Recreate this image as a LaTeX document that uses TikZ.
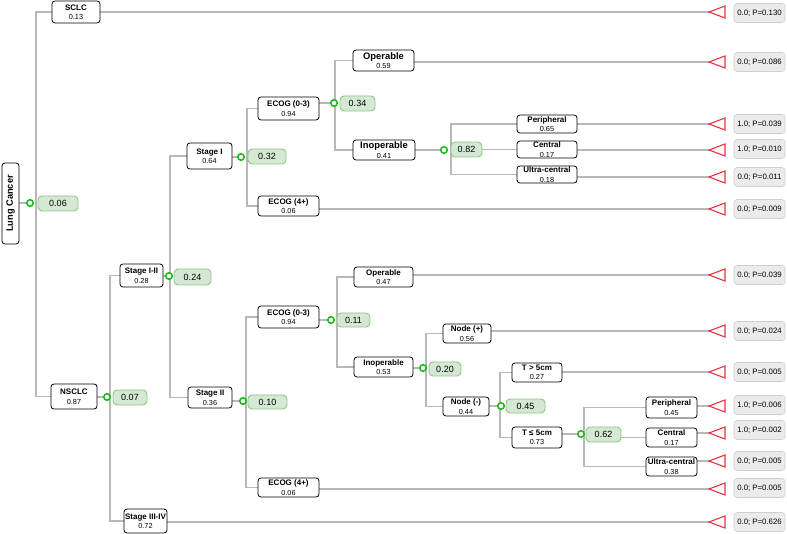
\documentclass[tikz,border=0pt]{standalone}
\usepackage{fontspec}
\usepackage{graphicx}
\setmainfont{Liberation Sans}
\definecolor{conncol}{HTML}{B8B8B8}
\definecolor{dotgreen}{HTML}{1DB81D}
\definecolor{pillfill}{HTML}{D5E8D4}
\definecolor{pillline}{HTML}{8FC585}
\definecolor{termfill}{HTML}{EBEBEB}
\definecolor{termline}{HTML}{CFCFCF}
\definecolor{trired}{HTML}{E8323F}
\newcommand\nlab[2]{\textbf{#1}\\{\fontsize{7.3}{9.5}\selectfont #2}}
\newcommand\nlabL[2]{{\fontsize{9.4}{9.5}\selectfont\bfseries #1}\\{\fontsize{7.3}{9.5}\selectfont #2}}
\pgfdeclarelayer{bg}
\pgfsetlayers{bg,main}
\tikzset{
  box/.style={draw=black, line width=0.8pt, rounded corners=3pt, fill=white, inner sep=0pt, align=center, font=\fontsize{8}{9.5}\selectfont},
  pill/.style={draw=pillline, fill=pillfill, line width=0.9pt, rounded corners=4pt, inner sep=0pt, font=\fontsize{9}{10}\selectfont},
  dot/.style={circle, draw=dotgreen, line width=1.6pt, fill=white, minimum size=6.5pt, inner sep=0pt},
  conn/.style={draw=conncol, line width=1.1pt},
  tri/.style={draw=trired, line width=1.1pt, fill=white, line join=miter},
  term/.style={draw=termline, fill=termfill, line width=0.6pt, rounded corners=3pt, inner sep=0pt, minimum width=51pt, minimum height=19pt, font=\fontsize{7.8}{9}\selectfont},
}
\begin{document}
\begin{tikzpicture}[x=1pt,y=-1pt]
\useasboundingbox (0,0) rectangle (787,534);
% boxes
\node[box, minimum width=17pt, minimum height=81pt] (lung) at (10.5,203.5) {\rotatebox{90}{\fontsize{9.3}{10}\selectfont\bfseries Lung Cancer}};
\node[box, minimum width=48pt, minimum height=22pt] (sclc) at (76,12) {\nlab{SCLC}{0.13}};
\node[box, minimum width=46pt, minimum height=25pt] (nsclc) at (74,396.5) {\nlab{NSCLC}{0.87}};
\node[box, minimum width=43pt, minimum height=23pt] (s12) at (141.5,275.5) {\nlab{Stage I-II}{0.28}};
\node[box, minimum width=43pt, minimum height=24pt] (s34) at (145.5,521) {\nlab{Stage III-IV}{0.72}};
\node[box, minimum width=45pt, minimum height=26pt] (st1) at (209.5,156) {\nlab{Stage I}{0.64}};
\node[box, minimum width=44pt, minimum height=21pt] (st2) at (210,397.5) {\nlab{Stage II}{0.36}};
\node[box, minimum width=61pt, minimum height=23pt] (ecA) at (288.5,108.5) {\nlab{ECOG (0-3)}{0.94}};
\node[box, minimum width=61pt, minimum height=20pt] (ec4A) at (288.5,206) {\nlab{ECOG (4+)}{0.06}};
\node[box, minimum width=61pt, minimum height=21pt] (opA) at (383.5,60.5) {\nlabL{Operable}{0.59}};
\node[box, minimum width=62pt, minimum height=20pt] (inA) at (384,150) {\nlabL{Inoperable}{0.41}};
\node[box, minimum width=60pt, minimum height=18pt] (peA) at (547,124) {\nlab{Peripheral}{0.65}};
\node[box, minimum width=60pt, minimum height=17pt] (ceA) at (547,149.5) {\nlab{Central}{0.17}};
\node[box, minimum width=60pt, minimum height=17pt] (ucA) at (547,174.5) {\nlab{Ultra-central}{0.18}};
\node[box, minimum width=61pt, minimum height=22pt] (ecB) at (288.5,317) {\nlab{ECOG (0-3)}{0.94}};
\node[box, minimum width=61pt, minimum height=19pt] (ec4B) at (288.5,487.5) {\nlab{ECOG (4+)}{0.06}};
\node[box, minimum width=59pt, minimum height=20pt] (opB) at (383.5,277) {\nlab{Operable}{0.47}};
\node[box, minimum width=59pt, minimum height=20pt] (inB) at (383.5,367) {\nlab{Inoperable}{0.53}};
\node[box, minimum width=48pt, minimum height=19pt] (ndP) at (467,333.5) {\nlab{Node (+)}{0.56}};
\node[box, minimum width=46pt, minimum height=19pt] (ndM) at (466,406.5) {\nlab{Node (-)}{0.44}};
\node[box, minimum width=50pt, minimum height=19pt] (tgt) at (537,372.5) {\nlab{T > 5cm}{0.27}};
\node[box, minimum width=50pt, minimum height=21pt] (tle) at (537,437.5) {\nlab{T ≤ 5cm}{0.73}};
\node[box, minimum width=51pt, minimum height=21pt] (peB) at (671.5,407.5) {\nlab{Peripheral}{0.45}};
\node[box, minimum width=51pt, minimum height=19pt] (ceB) at (671.5,437.5) {\nlab{Central}{0.17}};
\node[box, minimum width=51pt, minimum height=19pt] (ucB) at (671.5,466.5) {\nlab{Ultra-central}{0.38}};
% pills
\node[pill, minimum width=40pt, minimum height=15pt] (pA) at (58,203.5) {0.06};
\node[pill, minimum width=34pt, minimum height=15pt] (pB) at (130,397.5) {0.07};
\node[pill, minimum width=37pt, minimum height=16pt] (pC) at (192.5,277) {0.24};
\node[pill, minimum width=38pt, minimum height=15pt] (pD) at (267,156.5) {0.32};
\node[pill, minimum width=35pt, minimum height=15pt] (pE) at (357.5,103.5) {0.34};
\node[pill, minimum width=31pt, minimum height=15pt] (pF) at (466.5,149.5) {0.82};
\node[pill, minimum width=39pt, minimum height=14pt] (pG) at (267.5,402) {0.10};
\node[pill, minimum width=33pt, minimum height=14pt] (pH) at (353.5,320) {0.11};
\node[pill, minimum width=32pt, minimum height=14pt] (pI) at (445,369) {0.20};
\node[pill, minimum width=39pt, minimum height=14pt] (pJ) at (525.5,406) {0.45};
\node[pill, minimum width=35pt, minimum height=15pt] (pK) at (603.5,434.5) {0.62};
% decision dots
\node[dot] (cA) at (30,203) {};
\node[dot] (cB) at (107,397) {};
\node[dot] (cC) at (169,276) {};
\node[dot] (cD) at (241,157) {};
\node[dot] (cE) at (334,103) {};
\node[dot] (cF) at (444,150) {};
\node[dot] (cG) at (243,401) {};
\node[dot] (cH) at (331,320) {};
\node[dot] (cI) at (423,368) {};
\node[dot] (cJ) at (501,406) {};
\node[dot] (cK) at (581,434) {};
% vertical bus coordinates
\coordinate (vA) at (36,0);
\coordinate (vB) at (110,0);
\coordinate (vC) at (170,0);
\coordinate (vD) at (247,0);
\coordinate (vE) at (335,0);
\coordinate (vF) at (451,0);
\coordinate (vG) at (246,0);
\coordinate (vH) at (337,0);
\coordinate (vI) at (426,0);
\coordinate (vJ) at (500,0);
\coordinate (vK) at (584,0);
% terminal tips
\coordinate (t1) at (709,12);
\coordinate (t2) at (709,62);
\coordinate (t3) at (709,124);
\coordinate (t4) at (709,150);
\coordinate (t5) at (709,177);
\coordinate (t6) at (709,209);
\coordinate (t7) at (709,275);
\coordinate (t8) at (709,331);
\coordinate (t9) at (709,372);
\coordinate (t10) at (709,406);
\coordinate (t11) at (709,433);
\coordinate (t12) at (709,461);
\coordinate (t13) at (709,489);
\coordinate (t14) at (709,522);
\foreach \t in {t1,t2,t3,t4,t5,t6,t7,t8,t9,t10,t11,t12,t13,t14}
  \draw[tri] (\t) -- ++(16,-6) -- ++(0,12) -- cycle;
% terminal values
\node[term] (r1) at (759.5,13) {0.0; P=0.130};
\node[term] (r2) at (759.5,62) {0.0; P=0.086};
\node[term] (r3) at (759.5,124) {1.0; P=0.039};
\node[term] (r4) at (759.5,149) {1.0; P=0.010};
\node[term] (r5) at (759.5,177) {0.0; P=0.011};
\node[term] (r6) at (759.5,209) {0.0; P=0.009};
\node[term] (r7) at (759.5,275) {0.0; P=0.039};
\node[term] (r8) at (759.5,331) {0.0; P=0.024};
\node[term] (r9) at (759.5,372) {0.0; P=0.005};
\node[term] (r10) at (759.5,405) {1.0; P=0.006};
\node[term] (r11) at (759.5,430) {1.0; P=0.002};
\node[term] (r12) at (759.5,461) {0.0; P=0.005};
\node[term] (r13) at (759.5,488) {0.0; P=0.005};
\node[term] (r14) at (759.5,522) {0.0; P=0.626};
% connectors
\begin{pgfonlayer}{bg}
\draw[conn] (lung.east |- cA) -- (cA);
\draw[conn] (sclc.west) -| (vA |- nsclc.west) -- (nsclc.west);
\draw[conn] (nsclc.east |- cB) -- (cB);
\draw[conn] (s12.west) -| (vB |- s34.west) -- (s34.west);
\draw[conn] (s12.east |- cC) -- (cC);
\draw[conn] (st1.west) -| (vC |- st2.west) -- (st2.west);
\draw[conn] (st1.east |- cD) -- (cD);
\draw[conn] (ecA.west) -| (vD |- ec4A.west) -- (ec4A.west);
\draw[conn] (ecA.east |- cE) -- (cE);
\draw[conn] (opA.west) -| (vE |- inA.west) -- (inA.west);
\draw[conn] (inA.east |- cF) -- (cF);
\draw[conn] (peA.west) -| (vF |- ucA.west) -- (ucA.west);
\draw[conn] (vF |- ceA.west) -- (ceA.west);
\draw[conn] (st2.east |- cG) -- (cG);
\draw[conn] (ecB.west) -| (vG |- ec4B.west) -- (ec4B.west);
\draw[conn] (ecB.east |- cH) -- (cH);
\draw[conn] (opB.west) -| (vH |- inB.west) -- (inB.west);
\draw[conn] (inB.east |- cI) -- (cI);
\draw[conn] (ndP.west) -| (vI |- ndM.west) -- (ndM.west);
\draw[conn] (ndM.east |- cJ) -- (cJ);
\draw[conn] (tgt.west) -| (vJ |- tle.west) -- (tle.west);
\draw[conn] (tle.east |- cK) -- (cK);
\draw[conn] (peB.west) -| (vK |- ucB.west) -- (ucB.west);
\draw[conn] (vK |- ceB.west) -- (ceB.west);
% leaves to terminals
\draw[conn] (sclc.east |- t1) -- (t1);
\draw[conn] (opA.east |- t2) -- (t2);
\draw[conn] (peA.east |- t3) -- (t3);
\draw[conn] (ceA.east |- t4) -- (t4);
\draw[conn] (ucA.east |- t5) -- (t5);
\draw[conn] (ec4A.east |- t6) -- (t6);
\draw[conn] (opB.east |- t7) -- (t7);
\draw[conn] (ndP.east |- t8) -- (t8);
\draw[conn] (tgt.east |- t9) -- (t9);
\draw[conn] (peB.east |- t10) -- (t10);
\draw[conn] (ceB.east |- t11) -- (t11);
\draw[conn] (ucB.east |- t12) -- (t12);
\draw[conn] (ec4B.east |- t13) -- (t13);
\draw[conn] (s34.east |- t14) -- (t14);
\end{pgfonlayer}
\end{tikzpicture}
\end{document}
